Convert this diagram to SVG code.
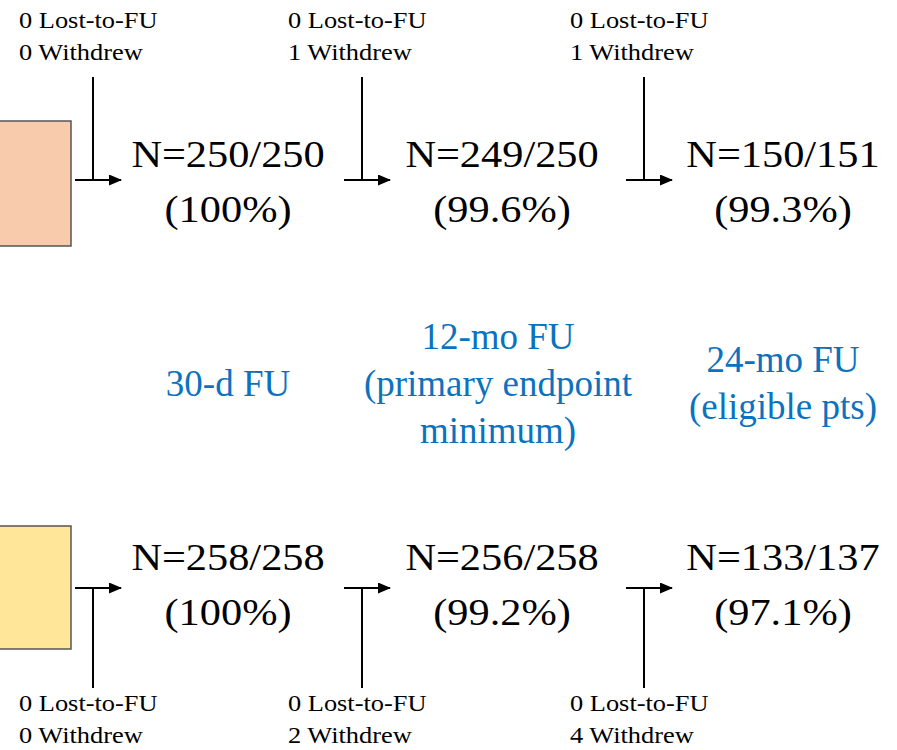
<svg xmlns="http://www.w3.org/2000/svg" width="897" height="750" viewBox="0 0 897 750">
  <defs>
    <marker id="arrowhead" markerWidth="13" markerHeight="11" refX="12" refY="5.5" orient="auto" markerUnits="userSpaceOnUse">
      <path d="M0,0 L13,5.5 L0,11 Z" fill="#000"/>
    </marker>
  </defs>
  <style>
    text { font-family: 'Liberation Serif', 'DejaVu Serif', serif; }
    .small { font-size: 24px; fill: #000; }
    .big { font-size: 38.5px; fill: #000; text-anchor: middle; }
    .phase { font-size: 37px; fill: #0b72bf; text-anchor: middle; }
    .line { stroke: #000; stroke-width: 2; fill: none; }
    .arrow { stroke: #000; stroke-width: 2; fill: none; marker-end: url(#arrowhead); }
  </style>
  <rect width="897" height="750" fill="#fff"/>

  <!-- arm boxes -->
  <g id="arm-top">
    <rect x="-2" y="121" width="73" height="125" fill="#f8cbad" stroke="#555" stroke-width="1.5"/>
  </g>
  <g id="arm-bottom">
    <rect x="-2" y="526" width="73" height="123" fill="#ffe699" stroke="#555" stroke-width="1.5"/>
  </g>

  <!-- count and dropout text is set slightly wide: x values are divided by 1.1 -->
  <g transform="scale(1.1 1)">
    <!-- top row counts -->
    <g id="top-30d">
      <text class="big" x="207.3" y="167">N=250/250</text>
      <text class="big" x="207.3" y="222">(100%)</text>
    </g>
    <g id="top-12mo">
      <text class="big" x="456.4" y="167">N=249/250</text>
      <text class="big" x="456.4" y="222">(99.6%)</text>
    </g>
    <g id="top-24mo">
      <text class="big" x="711.8" y="167">N=150/151</text>
      <text class="big" x="711.8" y="222">(99.3%)</text>
    </g>

    <!-- top row dropout notes -->
    <g id="top-drop-1">
      <text class="small" x="17.3" y="28">0 Lost-to-FU</text>
      <text class="small" x="17.3" y="60">0 Withdrew</text>
    </g>
    <g id="top-drop-2">
      <text class="small" x="261.8" y="28">0 Lost-to-FU</text>
      <text class="small" x="261.8" y="60">1 Withdrew</text>
    </g>
    <g id="top-drop-3">
      <text class="small" x="518.2" y="28">0 Lost-to-FU</text>
      <text class="small" x="518.2" y="60">1 Withdrew</text>
    </g>

    <!-- bottom row counts -->
    <g id="bottom-30d">
      <text class="big" x="207.3" y="570">N=258/258</text>
      <text class="big" x="207.3" y="625">(100%)</text>
    </g>
    <g id="bottom-12mo">
      <text class="big" x="456.4" y="570">N=256/258</text>
      <text class="big" x="456.4" y="625">(99.2%)</text>
    </g>
    <g id="bottom-24mo">
      <text class="big" x="711.8" y="570">N=133/137</text>
      <text class="big" x="711.8" y="625">(97.1%)</text>
    </g>

    <!-- bottom row dropout notes -->
    <g id="bottom-drop-1">
      <text class="small" x="17.3" y="711">0 Lost-to-FU</text>
      <text class="small" x="17.3" y="743">0 Withdrew</text>
    </g>
    <g id="bottom-drop-2">
      <text class="small" x="261.8" y="711">0 Lost-to-FU</text>
      <text class="small" x="261.8" y="743">2 Withdrew</text>
    </g>
    <g id="bottom-drop-3">
      <text class="small" x="518.2" y="711">0 Lost-to-FU</text>
      <text class="small" x="518.2" y="743">4 Withdrew</text>
    </g>
  </g>

  <!-- follow-up phase labels -->
  <g id="phase-30d">
    <text class="phase" x="228" y="396">30-d FU</text>
  </g>
  <g id="phase-12mo">
    <text class="phase" x="498" y="349">12-mo FU</text>
    <text class="phase" x="498" y="396">(primary endpoint</text>
    <text class="phase" x="498" y="443">minimum)</text>
  </g>
  <g id="phase-24mo">
    <text class="phase" x="783" y="372">24-mo FU</text>
    <text class="phase" x="783" y="419">(eligible pts)</text>
  </g>

  <!-- connectors -->
  <g id="connectors">
    <line class="line" x1="93" y1="77" x2="93" y2="180"/>
    <line class="arrow" x1="75" y1="180" x2="121" y2="180"/>
    <line class="line" x1="362" y1="77" x2="362" y2="180"/>
    <line class="arrow" x1="344" y1="180" x2="390" y2="180"/>
    <line class="line" x1="644" y1="77" x2="644" y2="180"/>
    <line class="arrow" x1="626" y1="180" x2="672" y2="180"/>

    <line class="line" x1="93" y1="588" x2="93" y2="688"/>
    <line class="arrow" x1="75" y1="588" x2="121" y2="588"/>
    <line class="line" x1="362" y1="588" x2="362" y2="688"/>
    <line class="arrow" x1="344" y1="588" x2="390" y2="588"/>
    <line class="line" x1="644" y1="588" x2="644" y2="688"/>
    <line class="arrow" x1="626" y1="588" x2="672" y2="588"/>
  </g>
</svg>
